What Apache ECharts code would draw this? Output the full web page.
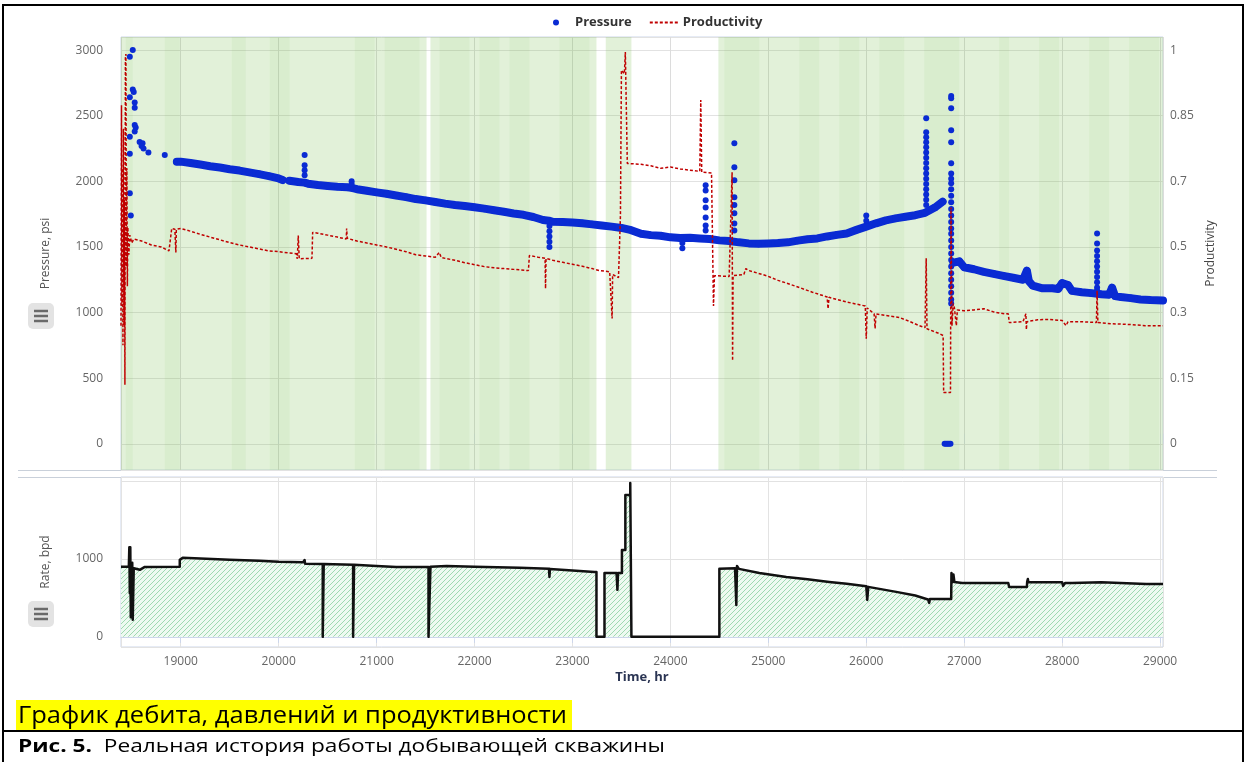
<!DOCTYPE html>
<html><head><meta charset="utf-8">
<script src="https://cdn.jsdelivr.net/npm/echarts@6/dist/echarts.min.js"></script>
<style>html,body{margin:0;padding:0;background:#fff}#c{width:1250px;height:762px}</style>
</head><body><div id="c"></div><script>
// ---------- DATA ----------
const timeMin = 18390, timeMax = 29030;
const timeTicks = [19000, 20000, 21000, 22000, 23000, 24000, 25000, 26000, 27000, 28000, 29000];
const pressureTicks = [0, 500, 1000, 1500, 2000, 2500, 3000];
const prodTickLabels = ['0', '0.15', '0.3', '0.5', '0.7', '0.85', '1'];
const rateTicks = [0, 1000];

// production periods (green background) [start, end] in hr
const bandRanges = [[18390, 21510], [21550, 23245], [23340, 23602], [24490, 29030]];
const stripeRanges = [[18439,18510],[18837,18990],[19520,19663],[19908,20112],[20776,20980],[21082,21439],
  [21643,21949],[22051,22255],[22357,22561],[22867,23173],[24551,24908],[25316,25520],[25724,25928],
  [26133,26388],[26592,26949],[27357,27459],[27765,27969],[28276,28480],[28684,28990]];

// pressure main trend [hr, psi]
const pressureBand = [
  [18960,2150],[19000,2150],[19100,2140],[19200,2128],[19300,2115],[19400,2105],[19500,2092],[19600,2082],
  [19700,2068],[19800,2055],[19900,2040],[20000,2022],[20040,2010],[20075,'-'],[20110,2005],[20200,1995],
  [20265,1990],[20300,1982],[20400,1972],[20500,1965],[20600,1958],[20700,1955],[20745,1950],[20800,1940],
  [20900,1928],[21000,1916],[21100,1905],[21200,1892],[21300,1880],[21400,1865],[21500,1855],[21600,1843],
  [21700,1830],[21800,1820],[21900,1812],[22000,1802],[22100,1792],[22200,1780],[22300,1768],[22400,1755],
  [22500,1745],[22600,1728],[22700,1705],[22760,1700],[22800,1692],[22900,1690],[23000,1687],[23100,1680],
  [23200,1672],[23300,1664],[23400,1655],[23500,1645],[23600,1628],[23700,1600],[23800,1590],[23900,1585],
  [24000,1573],[24100,1568],[24200,1570],[24300,1565],[24400,1560],[24500,1550],[24600,1545],[24700,1535],
  [24800,1527],[24900,1525],[25000,1527],[25100,1530],[25200,1535],[25300,1548],[25400,1558],[25500,1565],
  [25600,1580],[25700,1592],[25800,1603],[25900,1630],[26000,1655],[26100,1680],[26200,1702],[26300,1718],
  [26400,1730],[26500,1742],[26600,1760],[26700,1800],[26780,1845],[26835,'-'],
  [26890,1380],[26950,1390],[27000,1345],[27100,1330],[27200,1310],[27300,1295],[27400,1280],[27500,1265],
  [27600,1250],[27640,1320],[27660,1240],[27700,1205],[27800,1185],[27900,1185],[27960,1180],[28000,1225],
  [28060,1210],[28100,1165],[28200,1155],[28300,1148],[28400,1140],[28480,1135],[28510,1190],[28540,1125],
  [28600,1118],[28700,1110],[28800,1100],[28900,1095],[29030,1092]
];
// isolated pressure readings and spikes [hr, psi]
const pressureDots = [
  [18510,3000],[18480,2950],[18510,2700],[18520,2680],[18480,2640],[18530,2600],[18530,2560],[18530,2430],
  [18540,2410],[18530,2380],[18480,2340],[18580,2300],[18610,2290],[18600,2270],[18620,2250],[18480,2210],
  [18670,2220],[18837,2200],[18480,1910],[18490,1740],
  [20265,2200],[20265,2122],[20265,2084],[20265,2046],[20745,2000],[20745,1980],
  [22765,1660],[22765,1620],[22765,1580],[22765,1540],[22765,1500],[24122,1530],[24122,1490],
  [24360,1970],[24360,1931],[24360,1855],[24360,1800],[24360,1725],[24360,1664],[24360,1626],
  [24653,2290],[24653,2107],[24653,2008],[24653,1878],[24653,1820],[24653,1756],[24653,1679],[24653,1626],
  [26000,1740],[26000,1700],
  [26612,2481],[26612,2375],[26612,2336],[26612,2298],[26612,2260],[26612,2220],[26612,2180],[26612,2140],
  [26612,2100],[26612,2060],[26612,2020],[26612,1980],[26612,1940],[26612,1900],[26612,1860],[26612,1820],
  [26800,0],[26815,0],[26830,0],[26845,0],[26860,0],
  [26867,2650],[26867,2633],[26867,2557],[26867,2389],[26867,2298],[26867,2137],[26867,2060],[26867,2020],
  [26867,1985],[26867,1940],[26867,1890],[26867,1840],[26867,1790],[26867,1740],[26867,1690],[26867,1640],
  [26867,1600],[26867,1550],[26867,1500],[26867,1450],[26867,1400],[26867,1350],[26867,1300],[26867,1250],
  [26867,1200],[26867,1150],[26867,1100],[26867,1068],
  [28357,1603],[28357,1527],[28357,1473],[28357,1430],[28357,1390],[28357,1350],[28357,1310],[28357,1270],
  [28357,1230],[28357,1190],[28357,1168]
];
// productivity [hr, fraction]
const productivity = [
  [18390,0.30],[18395,0.86],[18400,0.35],[18405,0.70],[18410,0.25],[18415,0.80],[18420,0.30],[18425,0.62],
  [18430,0.15],[18435,0.98],[18440,0.99],[18445,0.45],[18450,0.70],[18455,0.40],[18460,0.55],[18470,0.48],
  [18480,0.53],[18500,0.51],[18520,0.52],[18600,0.515],[18700,0.505],[18800,0.50],[18880,0.49],[18900,0.495],
  [18908,0.547],[18940,0.545],[18950,0.486],[18955,0.545],[19000,0.547],[19100,0.54],[19200,0.532],[19300,0.525],
  [19400,0.518],[19500,0.511],[19600,0.505],[19700,0.50],[19800,0.495],[19900,0.49],[20000,0.488],[20100,0.485],
  [20180,0.483],[20190,0.47],[20200,0.529],[20210,0.47],[20340,0.471],[20347,0.537],[20400,0.535],[20500,0.53],
  [20600,0.525],[20690,0.52],[20694,0.547],[20700,0.522],[20800,0.515],[20900,0.51],[21000,0.505],[21100,0.50],
  [21200,0.494],[21300,0.488],[21400,0.48],[21500,0.477],[21600,0.474],[21640,0.486],[21660,0.473],[21800,0.466],
  [21900,0.46],[22000,0.455],[22100,0.45],[22200,0.447],[22300,0.445],[22400,0.443],[22550,0.44],[22560,0.478],
  [22650,0.474],[22720,0.471],[22725,0.394],[22730,0.471],[22800,0.466],[22900,0.461],[23000,0.456],[23100,0.451],
  [23200,0.445],[23276,0.44],[23380,0.437],[23400,0.435],[23405,0.318],[23410,0.43],[23470,0.422],[23490,0.58],
  [23500,0.949],[23530,0.94],[23540,0.995],[23560,0.712],[23700,0.71],[23800,0.706],[23900,0.70],[24000,0.703],
  [24100,0.698],[24200,0.695],[24300,0.692],[24310,0.873],[24320,0.69],[24420,0.688],[24440,0.35],[24450,0.427],
  [24600,0.425],[24630,0.69],[24635,0.211],[24640,0.427],[24750,0.43],[24770,0.445],[24800,0.44],[24980,0.427],
  [25100,0.415],[25163,0.41],[25316,0.397],[25450,0.385],[25600,0.373],[25610,0.343],[25620,0.372],[25800,0.36],
  [25990,0.35],[26000,0.267],[26010,0.345],[26080,0.33],[26090,0.293],[26100,0.33],[26200,0.326],[26337,0.321],
  [26450,0.31],[26541,0.30],[26600,0.295],[26612,0.471],[26620,0.292],[26745,0.28],[26785,0.275],[26790,0.13],
  [26860,0.13],[26865,0.60],[26875,0.30],[26888,0.356],[26900,0.345],[26920,0.30],[26930,0.34],[27000,0.338],
  [27100,0.34],[27200,0.343],[27300,0.335],[27409,0.33],[27450,0.33],[27460,0.308],[27600,0.31],[27630,0.33],
  [27635,0.29],[27640,0.31],[27750,0.315],[27868,0.316],[28000,0.313],[28040,0.30],[28060,0.31],[28200,0.31],
  [28350,0.308],[28357,0.389],[28365,0.308],[28500,0.305],[28684,0.303],[28850,0.30],[29030,0.30]
];
// liquid rate [hr, bpd]
const rate = [
  [18390,900],[18470,900],[18475,1150],[18480,560],[18485,1150],[18490,250],[18495,950],[18500,260],
  [18505,950],[18510,220],[18520,880],[18540,860],[18582,860],[18633,897],[18990,900],[18990,987],[19020,1013],
  [19200,1005],[19500,990],[19800,975],[20000,962],[20250,958],[20265,985],[20270,936],[20450,935],[20450,0],
  [20460,0],[20460,935],[20760,925],[20760,0],[20770,0],[20770,925],[21000,910],[21200,897],[21530,897],[21530,0],
  [21550,0],[21550,900],[21714,910],[22000,900],[22459,885],[22760,875],[22765,769],[22770,870],[23000,850],
  [23224,833],[23245,833],[23245,0],[23327,0],[23327,820],[23450,820],[23459,603],[23465,820],[23505,820],
  [23505,1115],[23540,1115],[23540,1820],[23590,1820],[23590,1974],[23602,1974],[23602,0],[24500,0],[24500,872],
  [24660,880],[24673,410],[24680,910],[24700,872],[24908,820],[25184,769],[25400,740],[25622,705],[25800,680],
  [26000,650],[26010,474],[26020,641],[26306,577],[26500,530],[26630,480],[26643,436],[26650,487],[26867,487],
  [26870,820],[26880,700],[26890,800],[26900,705],[26980,692],[27204,692],[27450,692],[27459,641],[27640,641],
  [27643,705],[27650,743],[27655,705],[28000,700],[28010,654],[28030,690],[28102,692],[28400,700],[28408,720],
  [28420,700],[28857,679],[29030,679]
];
// smoothed rate envelope (hatched fill) [hr, bpd]
const rateFill = [
  [18390,890],[18990,890],[18990,1000],[20000,960],[21000,905],[22000,895],[23245,830],[23245,0],[23327,0],
  [23327,820],[23505,820],[23505,1115],[23540,1115],[23540,1820],[23590,1820],[23590,1974],[23602,1974],
  [23602,0],[24500,0],[24500,872],[24908,820],[25622,705],[26306,577],[26643,470],[26867,487],[26867,700],
  [27459,700],[27459,641],[27643,641],[27643,705],[29030,680]
];

// ---------- RENDER ----------
function hatch() {
  const c = document.createElement('canvas'); c.width = 5; c.height = 5;
  const g = c.getContext('2d');
  g.fillStyle = '#eefaf1'; g.fillRect(0, 0, 5, 5);
  g.strokeStyle = '#9fd9b1'; g.lineWidth = 1;
  g.beginPath();
  g.moveTo(-1, 6); g.lineTo(6, -1);
  g.moveTo(-1, 1); g.lineTo(1, -1);
  g.moveTo(4, 6); g.lineTo(6, 4);
  g.stroke();
  return c;
}
function fit(text, font, w) {
  const g = document.createElement('canvas').getContext('2d');
  g.font = font; return w / g.measureText(text).width;
}
const cap1 = 'График дебита, давлений и продуктивности';
const cap2a = 'Рис. 5.', cap2b = '  Реальная история работы добывающей скважины';
const s1 = fit(cap1, '24px "Open Sans"', 549);
const g2 = document.createElement('canvas').getContext('2d');
g2.font = 'bold 18px "Open Sans"'; const w2a = g2.measureText(cap2a).width;
g2.font = '18px "Open Sans"'; const w2b = g2.measureText(cap2b).width;
const s2 = 647 / (w2a + w2b);

function burger(y) {
  return [
    {type:'rect', shape:{x:28, y:y, width:26, height:26, r:5}, style:{fill:'#e3e3e3'}},
    {type:'line', shape:{x1:34, y1:y+8, x2:48, y2:y+8}, style:{stroke:'#6a6a6a', lineWidth:2.5}},
    {type:'line', shape:{x1:34, y1:y+13, x2:48, y2:y+13}, style:{stroke:'#6a6a6a', lineWidth:2.5}},
    {type:'line', shape:{x1:34, y1:y+18, x2:48, y2:y+18}, style:{stroke:'#6a6a6a', lineWidth:2.5}}
  ];
}

const FONT = '"Open Sans", "Noto Sans", sans-serif';
const chart = echarts.init(document.getElementById('c'), null, {renderer:'canvas'});
const areaData = bandRanges.map(r => [{xAxis:r[0]}, {xAxis:r[1]}])
  .concat(stripeRanges.map(r => [{xAxis:r[0], itemStyle:{color:'rgba(120,190,80,0.08)'}}, {xAxis:r[1]}]));
const dashIcon = 'path://M0,0h3v2h-3z M5,0h3v2h-3z M10,0h3v2h-3z M15,0h3v2h-3z M20,0h3v2h-3z M25,0h3v2h-3z';
const BLUE = '#0a2bd3';

chart.setOption({
  animation: false,
  textStyle: {fontFamily: FONT},
  legend: {
    left: 548, top: 11, itemWidth: 28, itemHeight: 6, itemGap: 18,
    textStyle: {fontWeight: 'bold', fontSize: 13, color: '#333', fontFamily: FONT},
    data: [{name:'Pressure', icon:'circle'}, {name:'Productivity', icon: dashIcon}]
  },
  grid: [
    {left:121, top:37, width:1042, height:433, show:true, borderColor:'#ccd6eb', borderWidth:1},
    {left:121, top:477, width:1042, height:170, show:true, borderColor:'#ccd6eb', borderWidth:1}
  ],
  xAxis: [
    {gridIndex:0, type:'value', min:timeMin, max:timeMax, position:'top', splitNumber:11,
     axisLine:{show:false}, axisLabel:{show:false},
     axisTick:{show:true, length:10, lineStyle:{color:'#d5d9e0'}},
     splitLine:{show:true, lineStyle:{color:'#dcdcdc'}}},
    {gridIndex:1, type:'value', min:timeMin, max:timeMax, position:'bottom', splitNumber:11,
     axisLine:{show:true, lineStyle:{color:'#ccd6eb'}},
     axisTick:{show:true, length:6, lineStyle:{color:'#ccd6eb'}},
     axisLabel:{color:'#666', fontSize:12, margin:9, showMinLabel:false, showMaxLabel:false,
       formatter: v => timeTicks.includes(v) ? String(v) : ''},
     splitLine:{show:true, lineStyle:{color:'#e3e3e3'}},
     name:'Time, hr', nameLocation:'middle', nameGap:24,
     nameTextStyle:{color:'#2b3553', fontSize:13, fontWeight:'bold'}}
  ],
  yAxis: [
    {gridIndex:0, type:'value', min:-200, max:3100, splitNumber:7,
     axisLine:{show:false}, axisTick:{show:false},
     axisLabel:{color:'#666', fontSize:12, margin:18, showMinLabel:false, showMaxLabel:false,
       formatter: v => pressureTicks.includes(v) ? String(v) : ''},
     splitLine:{lineStyle:{color:'#e2e2e2'}},
     name:'Pressure, psi', nameLocation:'middle', nameGap:69, nameRotate:90,
     nameTextStyle:{color:'#555', fontSize:12}},
    {gridIndex:0, type:'value', min:-200, max:3100, splitNumber:7, position:'right',
     axisLine:{show:false}, axisTick:{show:false}, splitLine:{show:false},
     axisLabel:{color:'#666', fontSize:12, margin:7, showMinLabel:false, showMaxLabel:false,
       formatter: v => { const i = pressureTicks.indexOf(v); return i >= 0 ? prodTickLabels[i] : ''; }},
     name:'Productivity', nameLocation:'middle', nameGap:40, nameRotate:90,
     nameTextStyle:{color:'#444', fontSize:12}},
    {gridIndex:0, type:'value', min:-200/3000, max:3100/3000, show:false, splitLine:{show:false}},
    {gridIndex:1, type:'value', min:-130, max:2050, splitNumber:2,
     axisLine:{show:false}, axisTick:{show:false},
     axisLabel:{color:'#666', fontSize:12, margin:18, showMinLabel:false, showMaxLabel:false,
       formatter: v => rateTicks.includes(v) ? String(v) : ''},
     splitLine:{lineStyle:{color:'#e2e2e2'}},
     name:'Rate, bpd', nameLocation:'middle', nameGap:69, nameRotate:90,
     nameTextStyle:{color:'#555', fontSize:12}}
  ],
  series: [
    {name:'bg', type:'line', xAxisIndex:0, yAxisIndex:0, data:[], silent:true, z:1,
     markArea:{silent:true, itemStyle:{color:'rgba(120,190,80,0.215)'}, data: areaData}},
    {name:'Pressure', type:'line', xAxisIndex:0, yAxisIndex:0, data:pressureBand, z:3,
     symbol:'circle', symbolSize:7, showSymbol:true, connectNulls:false,
     itemStyle:{color:BLUE, opacity:1}, lineStyle:{color:BLUE, width:8, join:'round', cap:'round'}},
    {name:'Pressure', type:'scatter', xAxisIndex:0, yAxisIndex:0, data:pressureDots, z:3,
     symbolSize:6, itemStyle:{color:BLUE, opacity:1}},
    {name:'Productivity', type:'line', xAxisIndex:0, yAxisIndex:2, data:productivity, z:4,
     symbol:'none', itemStyle:{color:'#c00000'},
     lineStyle:{color:'#c00000', width:1.5, type:[3,2]}},
    {name:'RateFill', type:'line', xAxisIndex:1, yAxisIndex:3, data:rateFill, z:2, symbol:'none',
     lineStyle:{width:0, opacity:0}, areaStyle:{color:{image:hatch(), repeat:'repeat'}, opacity:1}},
    {name:'Rate', type:'line', xAxisIndex:1, yAxisIndex:3, data:rate, z:3, symbol:'none',
     lineStyle:{color:'#111', width:2.5, join:'round'}}
  ],
  graphic: [
    {type:'line', shape:{x1:18, y1:470.5, x2:1217, y2:470.5}, style:{stroke:'#c9d0da', lineWidth:1}},
    {type:'line', shape:{x1:18, y1:477.5, x2:1217, y2:477.5}, style:{stroke:'#c9d0da', lineWidth:1}},
    ...burger(303), ...burger(601),
    {type:'rect', shape:{x:16, y:700, width:556, height:31}, style:{fill:'#ffff00'}},
    {type:'text', x:18, y:716, scaleX:s1, style:{text:cap1, fontSize:24, fontFamily:'"Open Sans"', fill:'#000', verticalAlign:'middle'}},
    {type:'text', x:18, y:747, scaleX:s2, style:{text:'{b|' + cap2a + '}' + cap2b, fontSize:18, fontFamily:'"Open Sans"', fill:'#000', verticalAlign:'middle',
      rich:{b:{fontWeight:'bold', fontSize:18, fontFamily:'"Open Sans"', fill:'#000'}}}},
    {type:'line', shape:{x1:3, y1:5, x2:1243, y2:5}, style:{stroke:'#000', lineWidth:2}},
    {type:'line', shape:{x1:3, y1:4, x2:3, y2:762}, style:{stroke:'#000', lineWidth:2}},
    {type:'line', shape:{x1:1243, y1:4, x2:1243, y2:762}, style:{stroke:'#000', lineWidth:2}},
    {type:'line', shape:{x1:3, y1:731, x2:1243, y2:731}, style:{stroke:'#000', lineWidth:2}}
  ]
});
</script></body></html>
